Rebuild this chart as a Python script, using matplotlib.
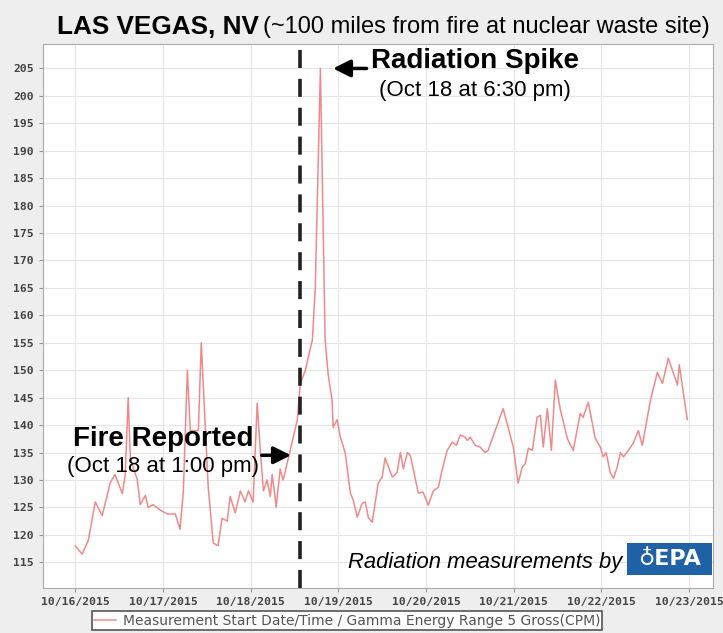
import pandas as pd
import matplotlib
matplotlib.use('Agg')
import matplotlib.pyplot as plt
import matplotlib.dates as mdates
from matplotlib.patches import Rectangle

# hours after 10/16/2015 00:00 and gamma gross counts (CPM)
hours = [0, 1.9, 3.6, 5.5, 7.4, 9.6, 10.9, 12.9, 13.7, 14.5, 15.1, 17.0, 17.8, 19.2,
         20.0, 21.3, 23.3, 25.2, 27.4, 28.7, 29.6, 30.7, 31.5, 32.8, 33.7, 34.5, 35.6,
         36.4, 37.8, 39.1, 40.2, 41.6, 42.4, 43.8, 45.2, 46.5, 47.4, 48.7, 49.8, 50.6,
         51.5, 52.5, 53.4, 53.9, 54.5, 55.0, 56.1, 56.9, 58.0, 59.4, 60.8, 61.6, 63.0,
         63.8, 64.9, 65.7, 67.1, 68.4, 69.2, 70.3, 70.6, 71.7, 72.5, 73.9, 75.3, 76.1,
         77.2, 78.5, 79.4, 80.2, 81.3, 82.9, 84.0, 84.8, 86.8, 88.1, 89.0, 89.8, 90.9,
         91.7, 93.9, 95.2, 96.6, 98.0, 99.4, 100.4, 101.8, 103.2, 104.3, 105.4, 106.7,
         107.3, 108.1, 109.5, 110.8, 112.2, 113.0, 117.1, 119.9, 121.2, 122.3, 123.2,
         124.0, 125.1, 126.4, 127.3, 128.1, 129.2, 130.3, 131.4, 132.7, 134.7, 136.3,
         138.2, 139.0, 140.4, 142.3, 143.7, 144.5, 145.3, 146.4, 147.3, 148.3, 149.2,
         150.0, 151.4, 152.7, 154.1, 155.2, 157.4, 159.3, 160.7, 162.3, 164.8, 165.3,
         167.5]
cpm = [118, 116.5, 119, 126, 123.5, 129.5, 131, 127.5, 131, 145, 134, 130, 125.5, 127.2,
       125, 125.5, 124.5, 123.8, 123.8, 121, 128, 150, 139, 139, 139, 155, 139.6,
       128.7, 118.5, 118, 123, 122.5, 127, 124, 128, 126, 128, 126, 144, 136,
       128, 130, 127, 131, 128, 125, 132, 130, 133, 137, 141, 147.6, 150,
       152.4, 155.5, 165, 205, 155.5, 149.4, 144.5, 139.6, 141, 138, 134.9, 127.6, 126.3,
       123.2, 125.7, 126, 123.2, 122.3, 129.4, 130.5, 134, 130.5, 131.4, 135, 132, 135,
       134.5, 127.6, 127.8, 125.4, 128, 128.7, 131.8, 135.4, 136.9, 136.3, 138.2, 137.8,
       137.2, 137.8, 136.3, 136, 135, 135.4, 143, 136, 129.4, 132.3, 133,
       135.8, 135.4, 141.4, 141.8, 136, 143, 135.4, 148.2, 143, 137.5, 135.4,
       142.1, 141.4, 144.2, 137.6, 136, 134.2, 135, 131.4, 130.3, 132.3, 135,
       134.2, 135.4, 136.7, 139, 136.3, 144.5, 149.6, 147.6, 152.2, 147.3, 151,
       141]

start = pd.Timestamp('2015-10-16')
fire_time = pd.Timestamp('2015-10-18 13:30')
tick_days = pd.date_range('2015-10-16', '2015-10-23', freq='D')
ytick_vals = list(range(115, 210, 5))

times = start + pd.to_timedelta(hours, unit='h')
h = lambda x: start + pd.Timedelta(hours=x)

fig = plt.figure(figsize=(7.23, 6.33), dpi=100, facecolor='#eeeeee')
ax = fig.add_axes([0.0595, 0.071, 0.927, 0.859])
ax.set_facecolor('white')

ax.plot(times, cpm, color='#f08a8a', lw=1.1,
        label='Measurement Start Date/Time / Gamma Energy Range 5 Gross(CPM)')
ax.axvline(fire_time, color='#222222', lw=2.6, dashes=(5, 3), zorder=5)

ax.set_xlim(h(-8.8), h(174.6))
ax.set_ylim(110.3, 209.4)
ax.set_xticks(tick_days)
ax.xaxis.set_major_formatter(mdates.DateFormatter('%m/%d/%Y'))
ax.set_yticks(ytick_vals)
ax.grid(True, color='#e6e6e6', lw=0.8)
ax.set_axisbelow(True)
for s in ax.spines.values():
    s.set_color('#aaaaaa')
ax.tick_params(length=3, color='#999999', labelcolor='#444444')
for lab in ax.get_xticklabels() + ax.get_yticklabels():
    lab.set_family('DejaVu Sans Mono')
    lab.set_fontweight('bold')
    lab.set_fontsize(8.2)

# annotations
ax.text(h(81.0), 206.4, 'Radiation Spike', fontsize=20, fontweight='bold',
        family='Liberation Sans', va='center', ha='left')
ax.text(h(109.5), 201.0, '(Oct 18 at 6:30 pm)', fontsize=16,
        family='Liberation Sans', va='center', ha='center')
ax.annotate('', xy=(h(69.8), 205), xytext=(h(80.5), 205),
            arrowprops=dict(arrowstyle='-|>', mutation_scale=26, lw=2.5, color='black'))

ax.text(h(24.1), 137.4, 'Fire Reported', fontsize=20, fontweight='bold',
        family='Liberation Sans', va='center', ha='center')
ax.text(h(24.1), 132.4, '(Oct 18 at 1:00 pm)', fontsize=16,
        family='Liberation Sans', va='center', ha='center')
ax.annotate('', xy=(h(59.8), 134.5), xytext=(h(50.3), 134.5),
            arrowprops=dict(arrowstyle='-|>', mutation_scale=26, lw=2.5, color='black'))

ax.text(h(149.7), 114.9, 'Radiation measurements by', fontsize=15.8, style='italic',
        family='Liberation Sans', va='center', ha='right')
ax.add_patch(Rectangle((0.872, 0.024), 0.126, 0.059, transform=ax.transAxes,
                       facecolor='#1f63a6', edgecolor='none', zorder=6))
ax.text(0.935, 0.0535, '\u2641EPA', transform=ax.transAxes, color='white',
        fontsize=16, fontweight='bold', family='DejaVu Sans', ha='center', va='center',
        zorder=7)

# title
fig.text(0.079, 0.957, 'LAS VEGAS, NV', fontsize=18.8, fontweight='bold',
         family='Liberation Sans', va='center', ha='left')
fig.text(0.364, 0.957, '(~100 miles from fire at nuclear waste site)', fontsize=17,
         family='Liberation Sans', va='center', ha='left')

leg = fig.legend(loc='upper center', bbox_to_anchor=(0.48, 0.034), fancybox=False,
                 edgecolor='#555555', framealpha=1, handlelength=1.6, borderpad=0.15,
                 borderaxespad=0, handletextpad=0.5,
                 prop={'family': 'DejaVu Sans', 'size': 10})
leg.get_frame().set_linewidth(1.2)
for t in leg.get_texts():
    t.set_color('#555555')

fig.savefig('out.png', dpi=100, facecolor=fig.get_facecolor())
